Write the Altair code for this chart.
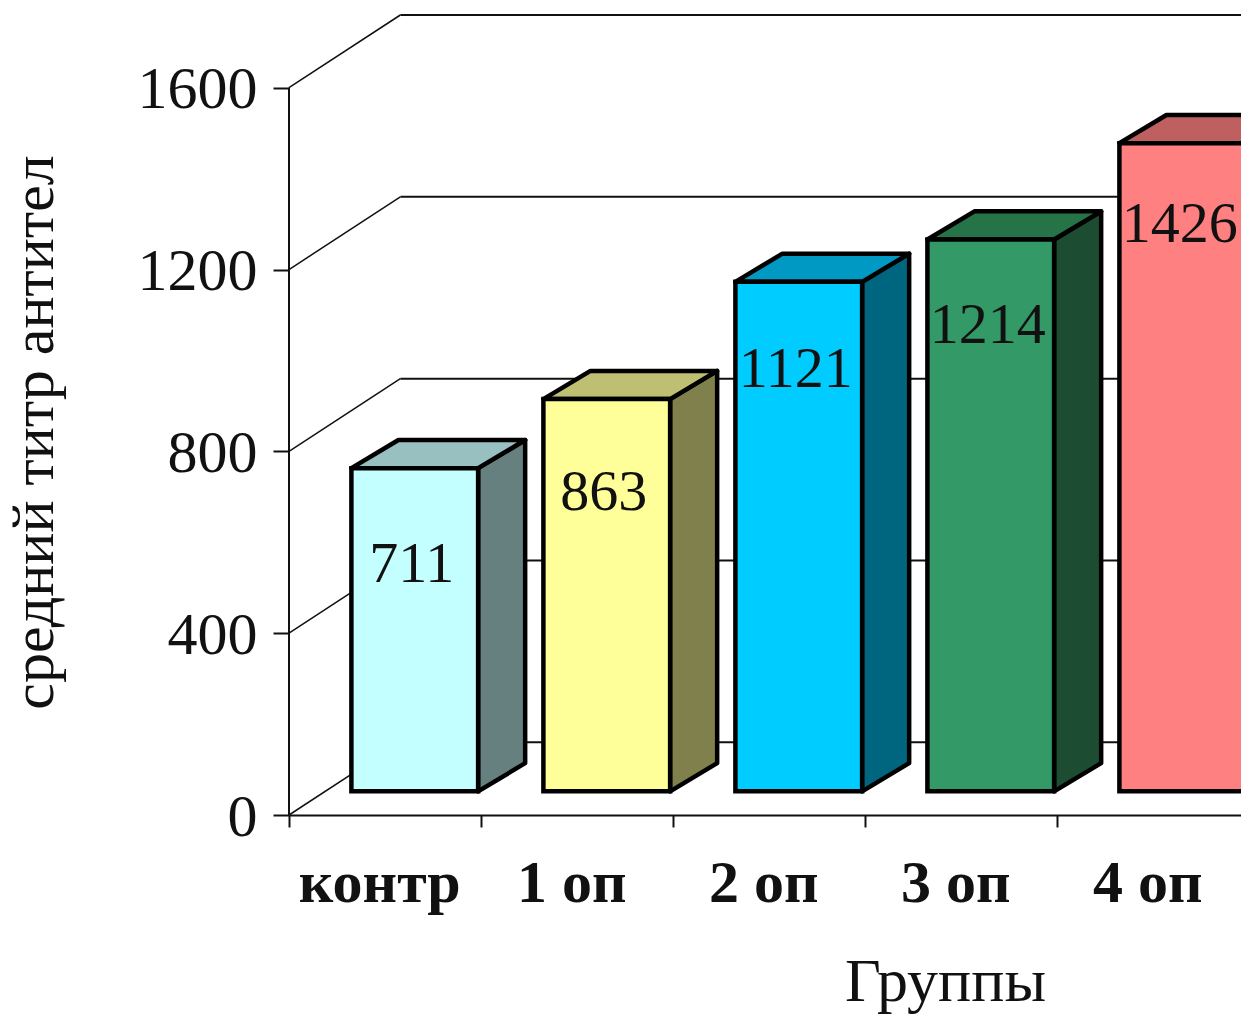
import altair as alt
import pandas as pd

groups = ["контр", "1 оп", "2 оп", "3 оп", "4 оп"]
values = [711, 863, 1121, 1214, 1426]
face_colors = ["#c4ffff", "#ffff99", "#00ccff", "#339966", "#ff8080"]
side_colors = ["#668080", "#80804d", "#006680", "#1c4d33", "#804040"]
top_colors = ["#99c0c0", "#bfbf73", "#0099c4", "#267347", "#bf6060"]
ticks = [0, 400, 800, 1200, 1600]

FONT = "Liberation Serif"
INK = "#111111"
FLOOR, DY = 52, 62
BAR_LEFT, BAR_W, DX = 0.325, 0.66, 0.245
WALL_X, WALL_Y = 0.58, 160
X_END = 952 / 192

x_scale = alt.Scale(domain=[0, X_END], nice=False, zero=False)
y_scale = alt.Scale(domain=[0, 1760], nice=False, zero=False)

x_axis = alt.Axis(
    values=[0, 1, 2, 3, 4], labels=False, grid=False, tickSize=12, tickWidth=2, tickColor=INK,
    domainWidth=2, domainColor=INK, title="Группы", titleFont=FONT, titleFontSize=62,
    titleFontWeight="normal", titleColor=INK, titleX=656, titleY=185, titleBaseline="alphabetic")
y_axis = alt.Axis(
    values=ticks, format="d", grid=False, tickSize=16, tickWidth=2, tickColor=INK, domain=False,
    labelFont=FONT, labelFontSize=60, labelColor=INK, labelPadding=16, labelOverlap=False, labelOffset=2,
    title="средний титр антител", titleFont=FONT, titleFontSize=60, titleFontWeight="normal",
    titleColor=INK, titleX=-237, titleY=417, titleAngle=270, titleBaseline="alphabetic")


def X(field):
    return alt.X(field, scale=x_scale, axis=x_axis)


def Y(field):
    return alt.Y(field, scale=y_scale, axis=y_axis)


bars = pd.DataFrame({"g": groups, "v": values, "face": face_colors, "side": side_colors, "top": top_colors})
bars["i"] = range(len(bars))
bars["l"] = bars.i + BAR_LEFT
bars["r"] = bars.l + BAR_W
bars["base"] = FLOOR
bars["tp"] = bars.v + FLOOR
bars["mid"] = bars.l + BAR_W / 2
bars["lab"] = bars.v * 1.046 - 194

side_rows, top_rows = [], []
for _, b in bars.iterrows():
    for k in (0, 1):
        side_rows.append({"g": b.g, "x": b.r + k * DX, "y": b.tp + k * DY, "y2": b.base + k * DY, "c": b.side})
        top_rows.append({"g": b.g, "y": b.tp + k * DY, "x": b.l + k * DX, "x2": b.r + k * DX, "c": b.top})
side = pd.DataFrame(side_rows)
top = pd.DataFrame(top_rows)

grid_rows, diag_rows = [], []
for t in ticks:
    grid_rows.append({"t": t, "x": WALL_X, "x2": X_END, "y": t + WALL_Y})
    diag_rows += [{"t": t, "x": 0, "y": t}, {"t": t, "x": WALL_X, "y": t + WALL_Y}]
grid = pd.DataFrame(grid_rows)
diag = pd.DataFrame(diag_rows)
wall = pd.DataFrame({"x": [0], "y": [ticks[0]], "y2": [ticks[-1]]})

wall_line = alt.Chart(wall).mark_rule(color=INK, strokeWidth=2).encode(x=X("x:Q"), y=Y("y:Q"), y2="y2:Q")
grid_lines = alt.Chart(grid).mark_rule(color=INK, strokeWidth=2).encode(x=X("x:Q"), x2="x2:Q", y=Y("y:Q"))
diag_lines = alt.Chart(diag).mark_line(color=INK, strokeWidth=1.5).encode(x=X("x:Q"), y=Y("y:Q"), detail="t:N")

side_faces = alt.Chart(side).mark_area(orient="vertical", stroke="#000000", strokeWidth=4.5, strokeJoin="round").encode(
    x=X("x:Q"), y=Y("y:Q"), y2="y2:Q", detail="g:N", color=alt.Color("c:N", scale=None))
top_faces = alt.Chart(top).mark_area(orient="horizontal", stroke="#000000", strokeWidth=4.5, strokeJoin="round").encode(
    y=Y("y:Q"), x=X("x:Q"), x2="x2:Q", detail="g:N", color=alt.Color("c:N", scale=None))
front_faces = alt.Chart(bars).mark_rect(stroke="#000000", strokeWidth=4.5).encode(
    x=X("l:Q"), x2="r:Q", y=Y("base:Q"), y2="tp:Q", color=alt.Color("face:N", scale=None))

value_labels = alt.Chart(bars).mark_text(font=FONT, fontSize=58, color=INK, baseline="middle", dx=-3).encode(
    x=X("mid:Q"), y=Y("lab:Q"), text="v:Q")
group_labels = alt.Chart(bars).mark_text(font=FONT, fontSize=60, fontWeight="bold", color=INK, baseline="alphabetic", dx=-35).encode(
    x=X("mid:Q"), y=alt.value(887), text="g:N")

chart = alt.layer(
    wall_line, grid_lines, diag_lines, side_faces, top_faces, front_faces, value_labels, group_labels
).properties(
    width=952, height=800,
    padding={"left": 281, "top": 7, "right": 0, "bottom": 200},
    autosize=alt.AutoSizeParams(type="none"),
).configure_view(stroke=None)

chart.save("out.html", embed_options={"renderer": "svg", "actions": False})
